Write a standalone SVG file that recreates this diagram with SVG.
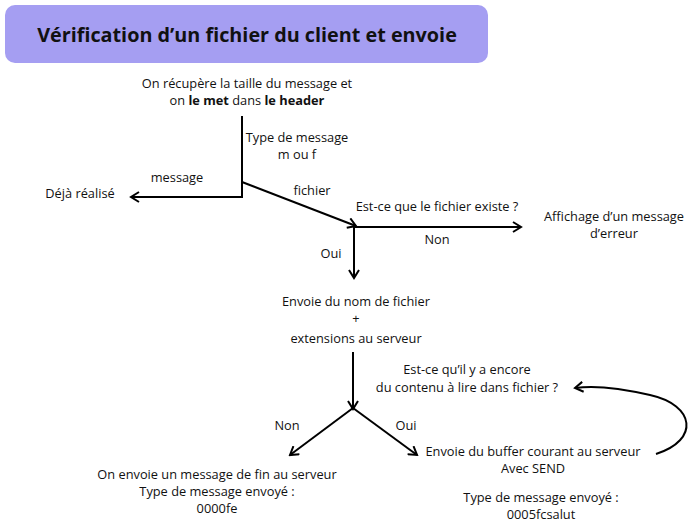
<svg xmlns="http://www.w3.org/2000/svg" width="700" height="527" viewBox="0 0 700 527">
<defs>
<style>
text{font-family:"Open Sans","Noto Sans","DejaVu Sans",sans-serif;font-size:12.8px;fill:#111;text-anchor:middle}
.title{font-size:19.8px;font-weight:bold}
.b{font-weight:bold}
.c{stroke:#000;stroke-width:2;fill:none}
</style>
<marker id="ah" viewBox="0 0 12 12" refX="10" refY="6" markerWidth="12" markerHeight="12" markerUnits="userSpaceOnUse" orient="auto">
<path d="M2,1 L10,6 L2,11" fill="none" stroke="#000" stroke-width="2"/>
</marker>
</defs>
<rect width="700" height="527" fill="#fff"/>
<g id="title">
<rect x="5" y="5" width="483" height="58" rx="10" fill="#a59ef2"/>
<text class="title" x="247" y="42">Vérification d’un fichier du client et envoie</text>
</g>
<g id="connectors">
<path class="c" d="M242,116 V197 H131" marker-end="url(#ah)"/>
<path class="c" d="M242,182 L356,226" marker-end="url(#ah)"/>
<path class="c" d="M354,227 H521" marker-end="url(#ah)"/>
<path class="c" d="M354,227 V278" marker-end="url(#ah)"/>
<path class="c" d="M353,352 V409" marker-end="url(#ah)"/>
<path class="c" d="M353,408 L290,455" marker-end="url(#ah)"/>
<path class="c" d="M353,408 L417,455" marker-end="url(#ah)"/>
<path class="c" d="M656,454 C700,440 695,405 650,395 C620,388 595,385 575,388" marker-end="url(#ah)"/>
</g>
<g id="n-recupere">
<text x="247" y="88">On récupère la taille du message et</text>
<text x="247" y="105">on <tspan class="b">le met</tspan> dans <tspan class="b">le header</tspan></text>
</g>
<g id="l-type">
<text x="297" y="142">Type de message</text>
<text x="297" y="159">m ou f</text>
</g>
<g id="l-message"><text x="177" y="182">message</text></g>
<g id="n-deja"><text x="80" y="198">Déjà réalisé</text></g>
<g id="l-fichier"><text x="312" y="195">fichier</text></g>
<g id="n-existe"><text x="437" y="211">Est-ce que le fichier existe ?</text></g>
<g id="l-non1"><text x="437" y="244">Non</text></g>
<g id="n-erreur">
<text x="614" y="221">Affichage d’un message</text>
<text x="614" y="238">d’erreur</text>
</g>
<g id="l-oui1"><text x="331" y="258">Oui</text></g>
<g id="n-envoie-nom">
<text x="356" y="306">Envoie du nom de fichier</text>
<text x="356" y="323">+</text>
<text x="356" y="343">extensions au serveur</text>
</g>
<g id="n-encore">
<text x="467" y="374">Est-ce qu’il y a encore</text>
<text x="467" y="392">du contenu à lire dans fichier ?</text>
</g>
<g id="l-non2"><text x="287" y="430">Non</text></g>
<g id="l-oui2"><text x="406" y="430">Oui</text></g>
<g id="n-buffer">
<text x="533" y="456">Envoie du buffer courant au serveur</text>
<text x="533" y="473">Avec SEND</text>
</g>
<g id="n-fin">
<text x="217" y="479">On envoie un message de fin au serveur</text>
<text x="217" y="496">Type de message envoyé :</text>
<text x="217" y="513">0000fe</text>
</g>
<g id="n-type-salut">
<text x="541" y="502">Type de message envoyé :</text>
<text x="541" y="519">0005fcsalut</text>
</g>
</svg>
